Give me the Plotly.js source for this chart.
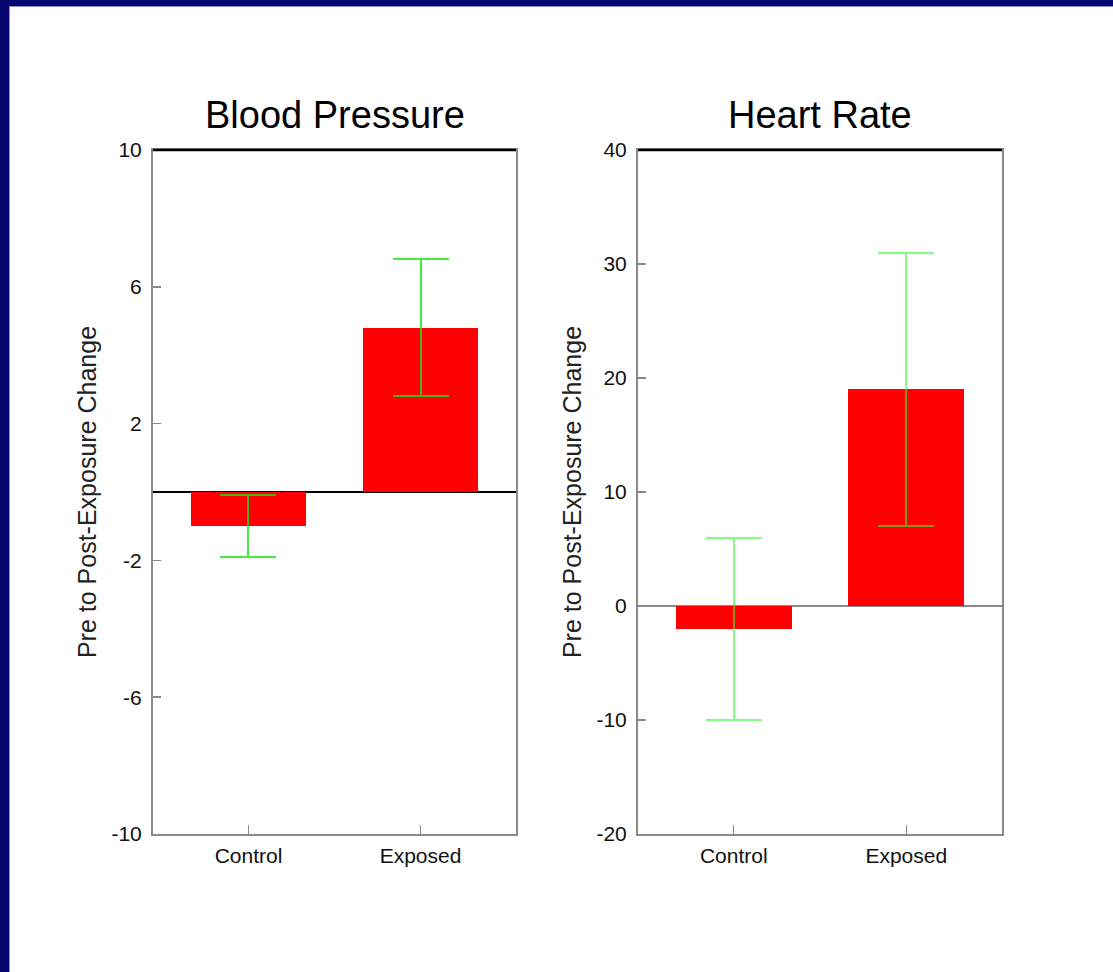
<!DOCTYPE html>
<html>
<head>
<meta charset="utf-8">
<script src="https://cdn.plot.ly/plotly-3.0.1.min.js"></script>
<style>
  html, body { margin: 0; padding: 0; background: #ffffff; }
  #chart { width: 1113px; height: 972px; }
</style>
</head>
<body>
<div id="chart"></div>
<script>
// ---- data ----
const categories = ['Control', 'Exposed'];
const bpMeans = [-1.0, 4.8];
const bpErrors = [0.9, 2.0];
const hrMeans = [-2, 19];
const hrErrors = [8, 12];
const titles = ['Blood Pressure', 'Heart Rate'];
const yTitle = 'Pre to Post-Exposure Change';
const bpTicks = [10, 6, 2, -2, -6, -10];
const bpTickText = ['10', '6', '2', '-2', '-6', '-10'];
const hrTicks = [40, 30, 20, 10, 0, -10, -20];
const hrTickText = ['40', '30', '20', '10', '0', '-10', '-20'];

const W = 1113, H = 972;
const fx = p => p / W;
const fy = p => 1 - p / H;
const FONT = 'Liberation Sans, Arial, sans-serif';

const traces = [
  {
    type: 'bar', x: categories, y: bpMeans, xaxis: 'x', yaxis: 'y',
    marker: { color: '#ff0000', line: { width: 0 } }, width: 0.67,
    error_y: { type: 'data', array: bpErrors, visible: true, color: 'rgba(20,230,20,0.8)', thickness: 2, width: 28 },
    hoverinfo: 'skip', showlegend: false
  },
  {
    type: 'bar', x: categories, y: hrMeans, xaxis: 'x2', yaxis: 'y2',
    marker: { color: '#ff0000', line: { width: 0 } }, width: 0.67,
    error_y: { type: 'data', array: hrErrors, visible: true, color: 'rgba(50,250,50,0.6)', thickness: 2, width: 28 },
    hoverinfo: 'skip', showlegend: false
  }
];

const xCommon = {
  type: 'category', range: [-0.555, 1.555], showgrid: false, zeroline: false,
  showline: true, linecolor: '#8a8a8a', linewidth: 2, mirror: true,
  ticks: 'inside', ticklen: 9, tickcolor: '#8a8a8a', tickwidth: 1.5,
  tickfont: { family: FONT, size: 21, color: '#111' }, ticklabelstandoff: 2, fixedrange: true
};
const yCommon = {
  showgrid: false, showline: true, linecolor: '#8a8a8a', linewidth: 2, mirror: true,
  ticks: 'inside', ticklen: 8, tickcolor: '#8a8a8a', tickwidth: 1.5,
  tickfont: { family: FONT, size: 21, color: '#111' }, ticklabelstandoff: 5, fixedrange: true,
  zeroline: true, zerolinewidth: 2,
  title: { text: yTitle, font: { family: FONT, size: 25, color: '#222' }, standoff: 8 }
};

const layout = {
  width: W, height: H,
  margin: { l: 0, r: 0, t: 0, b: 0 },
  paper_bgcolor: '#ffffff', plot_bgcolor: '#ffffff',
  bargap: 0,
  xaxis: Object.assign({}, xCommon, { domain: [fx(153), fx(516)], anchor: 'y' }),
  yaxis: Object.assign({}, yCommon, {
    domain: [fy(834), fy(150)], anchor: 'x', range: [-10, 10],
    tickvals: bpTicks, ticktext: bpTickText, zerolinecolor: '#000000'
  }),
  xaxis2: Object.assign({}, xCommon, { domain: [fx(638), fx(1002)], anchor: 'y2' }),
  yaxis2: Object.assign({}, yCommon, {
    domain: [fy(834), fy(150)], anchor: 'x2', range: [-20, 40],
    tickvals: hrTicks, ticktext: hrTickText, zerolinecolor: '#8a8a8a', zerolinewidth: 1.5
  }),
  annotations: [
    { text: titles[0], xref: 'x domain', yref: 'y domain', x: 0.5, y: 1, yshift: 35,
      showarrow: false, xanchor: 'center', yanchor: 'middle',
      font: { family: FONT, size: 38, color: '#000' } },
    { text: titles[1], xref: 'x2 domain', yref: 'y2 domain', x: 0.5, y: 1, yshift: 35,
      showarrow: false, xanchor: 'center', yanchor: 'middle',
      font: { family: FONT, size: 38, color: '#000' } }
  ],
  shapes: [
    // slide frame
    { type: 'rect', xref: 'paper', yref: 'paper', x0: 0, x1: fx(10), y0: 0, y1: 1,
      fillcolor: '#8888cc', line: { width: 0 }, layer: 'above' },
    { type: 'rect', xref: 'paper', yref: 'paper', x0: 0, x1: 1, y0: fy(7), y1: 1,
      fillcolor: '#8888cc', line: { width: 0 }, layer: 'above' },
    { type: 'rect', xref: 'paper', yref: 'paper', x0: 0, x1: fx(9), y0: 0, y1: 1,
      fillcolor: '#06066e', line: { width: 0 }, layer: 'above' },
    { type: 'rect', xref: 'paper', yref: 'paper', x0: 0, x1: 1, y0: fy(6), y1: 1,
      fillcolor: '#06066e', line: { width: 0 }, layer: 'above' },
    // black top frame lines
    { type: 'line', xref: 'x domain', yref: 'y domain', x0: 0, x1: 1, y0: 1, y1: 1,
      line: { color: '#000', width: 2.5 }, layer: 'above' },
    { type: 'line', xref: 'x2 domain', yref: 'y2 domain', x0: 0, x1: 1, y0: 1, y1: 1,
      line: { color: '#000', width: 2.5 }, layer: 'above' }
  ]
};

Plotly.newPlot('chart', traces, layout, { staticPlot: true, displayModeBar: false });
</script>
</body>
</html>
